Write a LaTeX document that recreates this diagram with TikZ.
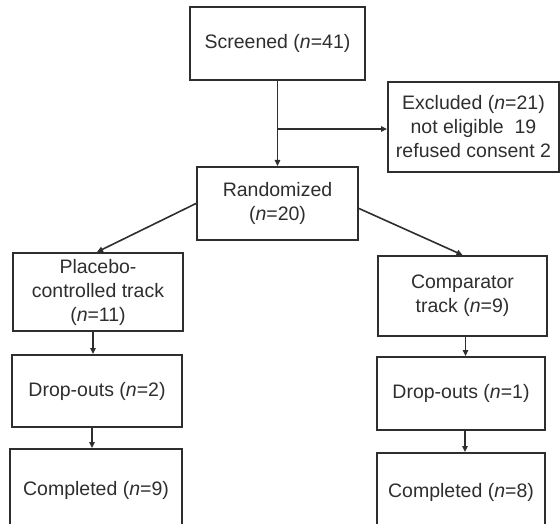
\documentclass[tikz,border=0pt]{standalone}
\usepackage{fontspec}
\setmainfont{Liberation Sans}
\usetikzlibrary{arrows.meta}
\definecolor{ink}{gray}{0.18}
\tikzset{
  box/.style={draw=ink, line width=2pt, align=center, inner sep=0pt, text=ink,
    font=\fontsize{19.5}{24}\selectfont},
  arr/.style={draw=ink, line width=1.6pt, -{Triangle[length=6pt,width=5.5pt]}},
}
\begin{document}
\begin{tikzpicture}[x=1pt,y=-1pt]
\useasboundingbox (0,0) rectangle (560,524);
\clip (0,0) rectangle (560,524);
\node[box, minimum width=175pt, minimum height=73pt] (screened) at (277.5,43.5) {Screened (\textit{n}=41)};
\node[box, minimum width=171pt, minimum height=90pt] (excluded) at (473.5,127) {Excluded (\textit{n}=21)\\not eligible\ \ 19\\refused consent 2};
\node[box, minimum width=161pt, minimum height=73pt] (randomized) at (277.5,203.5) {Randomized\\(\textit{n}=20)};
\node[box, minimum width=170pt, minimum height=78pt] (placebo) at (98,292) {Placebo-\\controlled track\\(\textit{n}=11)};
\node[box, minimum width=169pt, minimum height=80pt] (comparator) at (462.5,296) {Comparator\\track (\textit{n}=9)};
\node[box, minimum width=170pt, minimum height=72pt] (dropL) at (97,391) {Drop-outs (\textit{n}=2)};
\node[box, minimum width=168pt, minimum height=73pt] (dropR) at (461,393.5) {Drop-outs (\textit{n}=1)};
\node[box, minimum width=172pt, minimum height=82pt] (compL) at (96,490) {Completed (\textit{n}=9)};
\node[box, minimum width=168pt, minimum height=78pt] (compR) at (461,492) {Completed (\textit{n}=8)};
% connectors
\draw[arr] (screened.south) -- (randomized.north);
\draw[arr] ([yshift=-2pt]screened.south |- excluded.west) -- ([yshift=-2pt]excluded.west);
\draw[arr] (randomized.west) -- ([xshift=-1pt]placebo.north);
\draw[arr] ([yshift=-5pt]randomized.east) -- (comparator.north);
\draw[arr] ([xshift=-5pt]placebo.south) -- ([xshift=-5pt]placebo.south |- dropL.north);
\draw[arr] ([xshift=-5pt]dropL.south) -- ([xshift=-5pt]dropL.south |- compL.north);
\draw[arr] ([xshift=3pt]comparator.south) -- ([xshift=3pt]comparator.south |- dropR.north);
\draw[arr] ([xshift=4pt]dropR.south) -- ([xshift=4pt]dropR.south |- compR.north);
\end{tikzpicture}
\end{document}
